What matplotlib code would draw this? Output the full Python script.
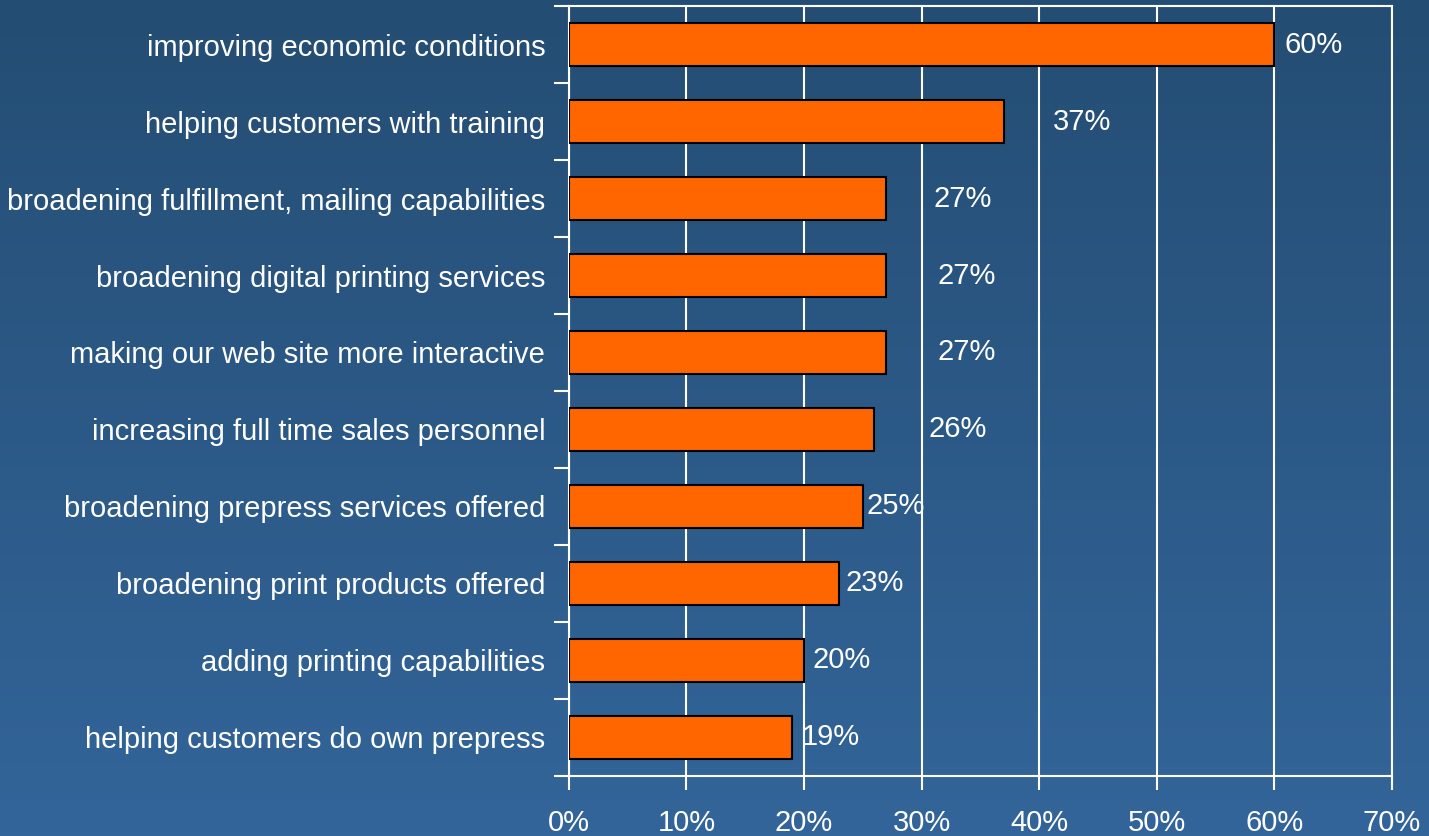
import numpy as np
import matplotlib.pyplot as plt
from matplotlib.colors import LinearSegmentedColormap

plt.rcParams['font.family'] = ['Liberation Sans', 'DejaVu Sans']

# survey answers, top to bottom
categories = [
    'improving economic conditions',
    'helping customers with training',
    'broadening fulfillment, mailing capabilities',
    'broadening digital printing services',
    'making our web site more interactive',
    'increasing full time sales personnel',
    'broadening prepress services offered',
    'broadening print products offered',
    'adding printing capabilities',
    'helping customers do own prepress',
]
values = [60, 37, 27, 27, 27, 26, 25, 23, 20, 19]
value_labels = ['60%', '37%', '27%', '27%', '27%', '26%', '25%', '23%', '20%', '19%']
x_ticks = [0, 10, 20, 30, 40, 50, 60, 70]
x_tick_labels = ['0%', '10%', '20%', '30%', '40%', '50%', '60%', '70%']

# where each value label sits (in x-axis units)
label_x = [60.9, 41.2, 31.0, 31.4, 31.4, 30.6, 25.3, 23.5, 20.7, 19.8]

fig = plt.figure(figsize=(14.29, 8.36), dpi=100)

# gradient background
bg = fig.add_axes([0, 0, 1, 1], zorder=-10)
cmap = LinearSegmentedColormap.from_list('bg', ['#244d73', '#33659a'])
bg.imshow(np.linspace(0, 1, 256).reshape(-1, 1), aspect='auto', cmap=cmap,
          extent=[0, 1, 0, 1])
bg.axis('off')

ax = fig.add_axes([0.398, 0.0718, 0.576, 0.921])
ax.patch.set_alpha(0)

y = np.arange(len(categories))
ax.barh(y, values, height=0.56, color='#ff6600', edgecolor='black',
        linewidth=1.5, zorder=3)

for yi, lx, txt in zip(y, label_x, value_labels):
    ax.text(lx, yi, txt, color='white', fontsize=21, va='center', ha='left',
            zorder=4)

ax.set_xlim(0, 70)
ax.set_ylim(len(categories) - 0.5, -0.5)
ax.set_xticks(x_ticks)
ax.set_xticklabels(x_tick_labels)
ax.set_yticks(y)
ax.set_yticklabels(categories)
ax.set_yticks(np.arange(-0.5, len(categories)), minor=True)

ax.tick_params(axis='y', which='major', length=0, pad=17, labelsize=21,
               labelcolor='white')
ax.tick_params(axis='y', which='minor', length=11, width=1.5, color='white',
               direction='out')
ax.tick_params(axis='x', length=10, width=1.5, color='white', direction='out',
               pad=14, labelsize=21, labelcolor='white')

ax.grid(axis='x', color='white', linewidth=1.5, zorder=1)
for s in ax.spines.values():
    s.set_color('white')
    s.set_linewidth(1.5)

fig.savefig('out.png', dpi=100)
